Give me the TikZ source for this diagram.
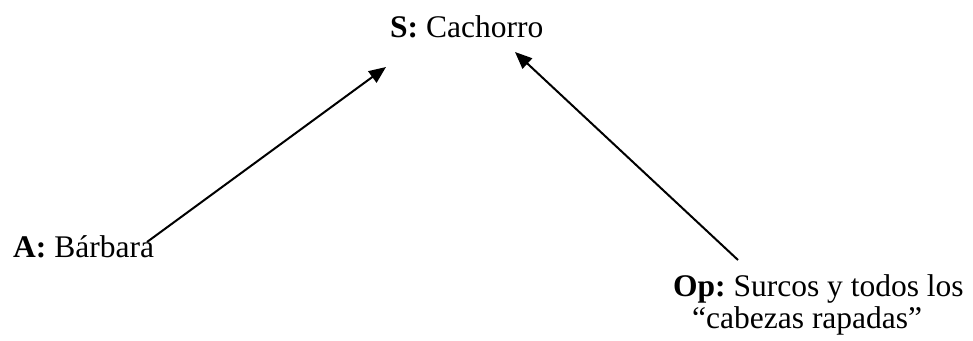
\documentclass[tikz,border=0pt]{standalone}
\usepackage{fontspec}
\setmainfont{Liberation Serif}
\usetikzlibrary{arrows.meta}
\frenchspacing
\begin{document}
\begin{tikzpicture}[x=1pt,y=-1pt,
  lbl/.style={anchor=base west, inner sep=0pt, font=\fontsize{31.5}{32}\selectfont\frenchspacing, align=left},
  arr/.style={-{Triangle[length=17pt,width=14pt]}, line width=2pt}]
\useasboundingbox (0,0) rectangle (973,340);
\node[lbl] (s) at (390,37) {\textbf{S:} Cachorro};
\node[lbl] (a) at (13,257) {\textbf{A:} Bárbara};
\node[lbl] (op) at (673,328) {\textbf{Op:} Surcos y todos los\\\hspace*{19pt}“cabezas rapadas”};
\coordinate (aend) at (147,242);
\coordinate (stip1) at (386,67);
\coordinate (opend) at (738,260);
\coordinate (stip2) at (515,52);
\draw[arr] (aend) -- (stip1);
\draw[arr] (opend) -- (stip2);
\end{tikzpicture}
\end{document}
